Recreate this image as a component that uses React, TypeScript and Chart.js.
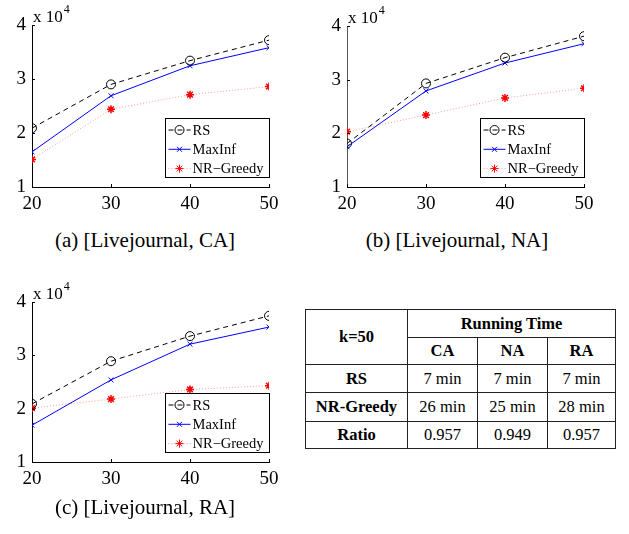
import React, { useEffect, useRef } from 'react';
import { Chart, registerables } from 'chart.js';
import { drawPoint } from 'chart.js/helpers';

Chart.register(...registerables);

// ---- data ----
const kValues = [20, 30, 40, 50];
const yTickValues = [10000, 20000, 30000, 40000];

const caRS = [20900, 29000, 33400, 37200];
const caMaxInf = [16500, 26900, 32450, 35800];
const caNRGreedy = [15100, 24400, 27100, 28600];

const naRS = [18100, 29300, 34100, 38100];
const naMaxInf = [17500, 27900, 33100, 36700];
const naNRGreedy = [20300, 23400, 26600, 28400];

const raRS = [20900, 28900, 33600, 37400];
const raMaxInf = [16900, 25400, 32100, 35300];
const raNRGreedy = [20100, 21800, 23600, 24300];

const seriesNames = ['RS', 'MaxInf', 'NR\u2212Greedy'];
const captions = ['(a) [Livejournal, CA]', '(b) [Livejournal, NA]', '(c) [Livejournal, RA]'];

const tableRegions = ['CA', 'NA', 'RA'];
const tableRS = ['7 min', '7 min', '7 min'];
const tableNR = ['26 min', '25 min', '28 min'];
const tableRatio = ['0.957', '0.949', '0.957'];

const SERIF = "'Liberation Serif', 'Times New Roman', serif";

function makeDatasets(rs: number[], maxInf: number[], nr: number[]) {
  const toXY = (arr: number[]) => arr.map((y, i) => ({ x: kValues[i], y }));
  return [
    {
      label: seriesNames[0],
      data: toXY(rs),
      borderColor: '#000000',
      borderWidth: 1,
      borderDash: [5, 4],
      pointStyle: 'circle',
      pointRadius: 4.5,
      pointBorderColor: '#000000',
      pointBackgroundColor: 'rgba(0,0,0,0)',
      pointBorderWidth: 1,
    },
    {
      label: seriesNames[1],
      data: toXY(maxInf),
      borderColor: '#0000ff',
      borderWidth: 1,
      borderDash: [],
      pointStyle: 'crossRot',
      pointRadius: 3.5,
      pointBorderColor: '#0000ff',
      pointBackgroundColor: '#0000ff',
      pointBorderWidth: 1,
    },
    {
      label: seriesNames[2],
      data: toXY(nr),
      borderColor: '#ff9a9a',
      borderWidth: 1,
      borderDash: [1, 2],
      pointStyle: 'star',
      pointRadius: 4,
      pointBorderColor: '#ff0000',
      pointBackgroundColor: '#ff0000',
      pointBorderWidth: 1.5,
    },
  ];
}

const decorPlugin = {
  id: 'decor',
  afterDraw(chart: any) {
    const ctx = chart.ctx;
    const area = chart.chartArea;
    const xs = chart.scales.x;
    const ys = chart.scales.y;
    ctx.save();
    // inward ticks
    ctx.strokeStyle = '#000';
    ctx.lineWidth = 1;
    ctx.beginPath();
    kValues.forEach((k) => {
      const px = Math.round(xs.getPixelForValue(k)) + 0.5;
      ctx.moveTo(px, area.bottom);
      ctx.lineTo(px, area.bottom - 3);
    });
    yTickValues.forEach((v) => {
      const py = Math.round(ys.getPixelForValue(v)) + 0.5;
      ctx.moveTo(area.left, py);
      ctx.lineTo(area.left + 3, py);
    });
    ctx.stroke();

    // exponent label
    ctx.fillStyle = '#000';
    ctx.textBaseline = 'alphabetic';
    ctx.textAlign = 'left';
    ctx.font = `17px ${SERIF}`;
    const base = 'x 10';
    const bx = area.left + 1;
    const by = area.top - 3;
    ctx.fillText(base, bx, by);
    const w = ctx.measureText(base).width;
    ctx.font = `12px ${SERIF}`;
    ctx.fillText('4', bx + w + 1, by - 9);

    // legend
    const boxW = 104;
    const boxH = 59;
    const bx0 = Math.round(area.right - boxW) + 0.5;
    const by0 = Math.round(area.bottom - 10 - boxH) + 0.5;
    ctx.fillStyle = '#fff';
    ctx.fillRect(bx0, by0, boxW, boxH);
    ctx.strokeStyle = '#000';
    ctx.lineWidth = 1;
    ctx.setLineDash([]);
    ctx.strokeRect(bx0, by0, boxW, boxH);
    chart.data.datasets.forEach((ds: any, i: number) => {
      const cy = by0 + 11.5 + i * 19.3;
      const x1 = bx0 + 3;
      const x2 = bx0 + 25;
      ctx.save();
      ctx.strokeStyle = ds.borderColor;
      ctx.lineWidth = ds.borderWidth;
      ctx.setLineDash(ds.borderDash || []);
      ctx.beginPath();
      ctx.moveTo(x1, cy);
      ctx.lineTo(x2, cy);
      ctx.stroke();
      ctx.setLineDash([]);
      ctx.strokeStyle = ds.pointBorderColor;
      ctx.fillStyle = ds.pointBackgroundColor;
      drawPoint(ctx, { pointStyle: ds.pointStyle, rotation: 0, radius: ds.pointRadius, borderWidth: ds.pointBorderWidth }, (x1 + x2) / 2, cy);
      ctx.restore();
      ctx.fillStyle = '#000';
      ctx.font = `14.5px ${SERIF}`;
      ctx.textBaseline = 'middle';
      ctx.textAlign = 'left';
      ctx.fillText(ds.label, bx0 + 27, cy + 1);
    });
    ctx.restore();
  },
};

function Plot(props: { left: number; top: number; rs: number[]; maxInf: number[]; nr: number[]; axisColor: string; padTop: number }) {
  const ref = useRef<HTMLCanvasElement | null>(null);
  useEffect(() => {
    if (!ref.current) return;
    const chart = new Chart(ref.current, {
      type: 'line',
      data: { datasets: makeDatasets(props.rs, props.maxInf, props.nr) as any },
      options: {
        animation: false,
        responsive: false,
        devicePixelRatio: 1,
        layout: { padding: { left: 0, right: 21, top: props.padTop, bottom: 8 } },
        plugins: { legend: { display: false }, tooltip: { enabled: false }, title: { display: false } },
        scales: {
          x: {
            type: 'linear',
            min: 20,
            max: 50,
            afterFit: (s: any) => { s.height = 30; },
            afterBuildTicks: (s: any) => { s.ticks = kValues.map((v) => ({ value: v })); },
            ticks: { color: '#000', font: { family: SERIF, size: 19 }, padding: 6, maxRotation: 0 },
            grid: { drawOnChartArea: false, drawTicks: false },
            border: { display: true, color: '#000', width: 1 },
          },
          y: {
            type: 'linear',
            min: 10000,
            max: 40000,
            afterFit: (s: any) => { s.width = 32; },
            afterBuildTicks: (s: any) => { s.ticks = yTickValues.map((v) => ({ value: v })); },
            ticks: { color: '#000', font: { family: SERIF, size: 19 }, padding: 6, callback: (v: any) => String(Number(v) / 10000) },
            grid: { drawOnChartArea: false, drawTicks: false },
            border: { display: true, color: props.axisColor, width: 1 },
          },
        },
      },
      plugins: [decorPlugin],
    } as any);
    return () => chart.destroy();
  }, []);
  return (
    <canvas
      ref={ref}
      width={290}
      height={225}
      style={{ position: 'absolute', left: props.left, top: props.top, width: 290, height: 225 }}
    />
  );
}

const cellStyle: React.CSSProperties = {
  border: '1px solid #222',
  textAlign: 'center',
  verticalAlign: 'middle',
  padding: 0,
};

export default function App() {
  const captionStyle = (left: number, top: number): React.CSSProperties => ({
    position: 'absolute',
    left,
    top,
    width: 290,
    textAlign: 'center',
    fontFamily: SERIF,
    fontSize: 21,
    lineHeight: '24px',
    color: '#000',
  });
  return (
    <div style={{ position: 'absolute', left: 0, top: 0, width: 629, height: 534, background: '#fff', overflow: 'hidden' }}>
      <Plot left={0} top={0} rs={caRS} maxInf={caMaxInf} nr={caNRGreedy} axisColor="#000" padTop={25} />
      <Plot left={315} top={0} rs={naRS} maxInf={naMaxInf} nr={naNRGreedy} axisColor="#555" padTop={26} />
      <Plot left={0} top={275} rs={raRS} maxInf={raMaxInf} nr={raNRGreedy} axisColor="#000" padTop={27} />
      <div style={captionStyle(0, 228)}>{captions[0]}</div>
      <div style={captionStyle(312, 228)}>{captions[1]}</div>
      <div style={captionStyle(0, 495)}>{captions[2]}</div>
      <table
        style={{
          position: 'absolute',
          left: 305,
          top: 309,
          width: 310,
          borderCollapse: 'collapse',
          tableLayout: 'fixed',
          fontFamily: SERIF,
          fontSize: 16.5,
          color: '#000',
        }}
      >
        <colgroup>
          <col style={{ width: 102 }} />
          <col style={{ width: 70 }} />
          <col style={{ width: 70 }} />
          <col style={{ width: 68 }} />
        </colgroup>
        <tbody>
          <tr style={{ height: 28 }}>
            <td style={{ ...cellStyle, fontWeight: 'bold' }} rowSpan={2}>k=50</td>
            <td style={{ ...cellStyle, fontWeight: 'bold' }} colSpan={3}>Running Time</td>
          </tr>
          <tr style={{ height: 27 }}>
            {tableRegions.map((r) => (
              <td key={r} style={{ ...cellStyle, fontWeight: 'bold' }}>{r}</td>
            ))}
          </tr>
          <tr style={{ height: 28 }}>
            <td style={{ ...cellStyle, fontWeight: 'bold' }}>RS</td>
            {tableRS.map((v, i) => (
              <td key={i} style={cellStyle}>{v}</td>
            ))}
          </tr>
          <tr style={{ height: 29 }}>
            <td style={{ ...cellStyle, fontWeight: 'bold' }}>NR-Greedy</td>
            {tableNR.map((v, i) => (
              <td key={i} style={cellStyle}>{v}</td>
            ))}
          </tr>
          <tr style={{ height: 27 }}>
            <td style={{ ...cellStyle, fontWeight: 'bold' }}>Ratio</td>
            {tableRatio.map((v, i) => (
              <td key={i} style={cellStyle}>{v}</td>
            ))}
          </tr>
        </tbody>
      </table>
    </div>
  );
}
